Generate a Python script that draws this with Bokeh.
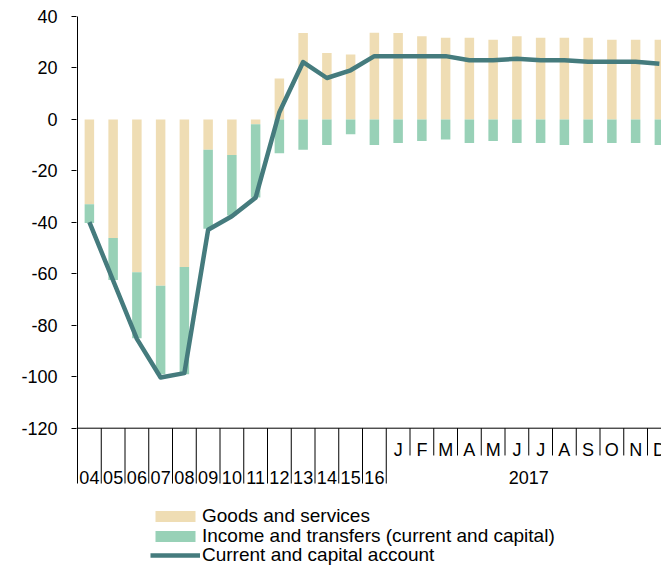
from bokeh.plotting import figure
from bokeh.models import Range1d, LinearAxis, FixedTicker, Legend, LegendItem
from bokeh.core.properties import value
from bokeh.embed import file_html
from bokeh.resources import INLINE

# ---------------- data ----------------
categories = ["04", "05", "06", "07", "08", "09", "10", "11", "12", "13", "14", "15", "16",
              "J", "F", "M", "A", "M", "J", "J", "A", "S", "O", "N", "D"]
year_labels = categories[:13]
month_labels = categories[13:]
group_label = "2017"

goods = [-33.0, -46.1, -59.4, -64.6, -57.4, -11.8, -13.8, -1.9, 15.9, 33.6, 25.8, 25.2, 33.7,
         33.6, 32.3, 31.7, 31.7, 31.0, 32.3, 31.7, 31.7, 31.7, 31.0, 31.0, 31.0]
income = [-7.3, -16.3, -25.6, -34.4, -41.6, -30.7, -23.5, -28.4, -13.1, -11.8, -9.9, -5.8, -9.9,
          -9.2, -8.4, -7.8, -9.2, -8.4, -9.2, -9.2, -9.9, -9.2, -9.2, -9.2, -9.9]
balance = [-39.9, -62.6, -85.3, -100.3, -98.6, -42.9, -37.6, -30.4, 2.8, 22.3, 16.1, 19.1, 24.6,
           24.6, 24.6, 24.6, 23.0, 23.0, 23.6, 23.0, 23.0, 22.4, 22.4, 22.4, 21.6]
y_ticks = [-120, -100, -80, -60, -40, -20, 0, 20, 40]
y_tick_labels = {t: str(t).replace("\u2212", "-") for t in y_ticks}

names = ["Goods and services", "Income and transfers (current and capital)",
         "Current and capital account"]

# ---------------- styling ----------------
C_GOODS = "#EFDDB4"
C_INCOME = "#98D1B7"
C_LINE = "#457B7D"
FONT = "Liberation Sans"
FS = "18px"

n = len(categories)
xs = list(range(n))
inc_bottom = [min(g, 0) for g in goods]
inc_top = [b + i for b, i in zip(inc_bottom, income)]

cw = 23.75          # px per category
ppu = 411.7 / 160   # px per y unit
W, H = 661, 565
left_border, top_border = 76, 15
frame_w = W - left_border
frame_h = H - top_border
x_start = -0.5 - 1 / cw
x_end = x_start + frame_w / cw
y_end = 40 + 1 / ppu
y_start = y_end - frame_h / ppu

y_min = y_ticks[0]
year_sep_bottom = -141.5
month_sep_bottom = -130.6
month_text_y = -128.5
year_text_y = -139.3

p = figure(width=W, height=H, output_backend="svg", toolbar_location=None,
           x_range=Range1d(x_start, x_end), y_range=Range1d(y_start, y_end),
           min_border_left=left_border, min_border_right=0,
           min_border_top=top_border, min_border_bottom=0,
           x_axis_location=None, y_axis_location=None)
p.grid.visible = False
p.outline_line_color = None
p.background_fill_color = "white"

r_goods = p.vbar(x=xs, bottom=0, top=goods, width=0.4, fill_color=C_GOODS, line_color=None)
r_income = p.vbar(x=xs, bottom=inc_bottom, top=inc_top, width=0.4, fill_color=C_INCOME, line_color=None)
r_line = p.line(x=xs, y=balance, line_color=C_LINE, line_width=4.5, line_join="round")

# y axis
yaxis = LinearAxis(ticker=FixedTicker(ticks=y_ticks), bounds=(y_ticks[0], y_ticks[-1]),
                   axis_line_color=None, major_tick_out=5, major_tick_in=0,
                   minor_tick_out=0, minor_tick_in=0, major_label_standoff=14,
                   major_label_overrides=y_tick_labels,
                   major_label_text_font=FONT, major_label_text_font_size=FS,
                   major_label_text_color="black", major_tick_line_color="black")
p.add_layout(yaxis, "left")

# axis lines
p.segment(x0=[-0.5], y0=[y_ticks[-1]], x1=[-0.5], y1=[year_sep_bottom], line_color="black", line_width=1)
p.segment(x0=[x_start], y0=[y_min], x1=[x_end], y1=[y_min], line_color="black", line_width=1)

# category separators
year_seps = [i - 0.5 for i in range(1, len(year_labels) + 1)]
month_seps = [i - 0.5 for i in range(len(year_labels) + 1, n + 1)]
p.segment(x0=year_seps, y0=[y_min] * len(year_seps), x1=year_seps,
          y1=[year_sep_bottom] * len(year_seps), line_color="black", line_width=1)
p.segment(x0=month_seps, y0=[y_min] * len(month_seps), x1=month_seps,
          y1=[month_sep_bottom] * len(month_seps), line_color="black", line_width=1)

# category labels
p.text(x=xs[:len(year_labels)], y=[year_text_y] * len(year_labels), text=year_labels,
       text_align="center", text_baseline="alphabetic", text_font=value(FONT),
       text_font_size=FS, text_color="black")
mx = xs[len(year_labels):]
p.text(x=mx, y=[month_text_y] * len(mx), text=month_labels,
       text_align="center", text_baseline="alphabetic", text_font=value(FONT),
       text_font_size=FS, text_color="black")
p.text(x=[sum(mx) / len(mx)], y=[year_text_y], text=[group_label],
       text_align="center", text_baseline="alphabetic", text_font=value(FONT),
       text_font_size=FS, text_color="black")

# legend: one row per Legend so the row pitch matches the reference
legend_offsets = [38, 18, -1]
for name, rend, off in zip(names, [r_goods, r_income, r_line], legend_offsets):
    lg = Legend(items=[LegendItem(label=name, renderers=[rend])],
                location=(74, off), orientation="vertical", glyph_width=50, glyph_height=14,
                label_standoff=2, padding=0, margin=0, spacing=0,
                border_line_color=None, background_fill_alpha=0,
                label_text_font=FONT, label_text_font_size="19px", label_text_color="black")
    p.add_layout(lg)

open("out.html", "w").write(file_html(p, INLINE))
